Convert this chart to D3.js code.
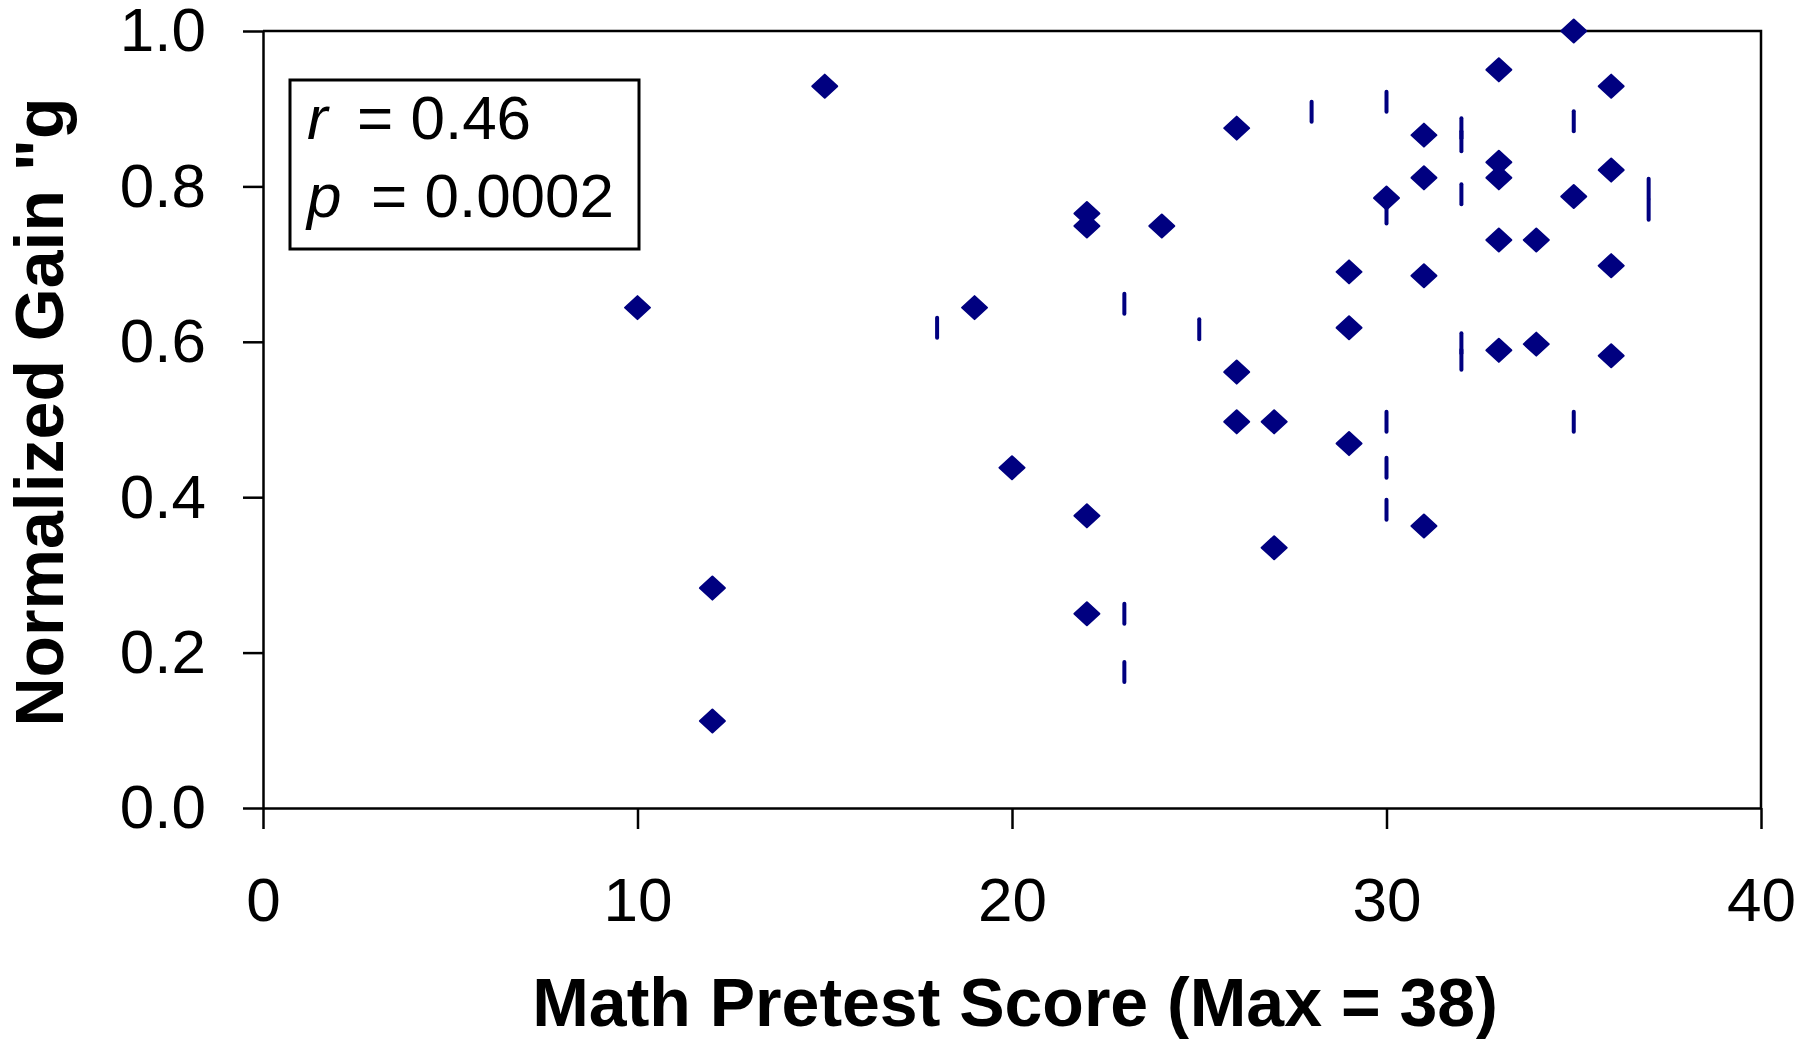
<!DOCTYPE html>
<html>
<head>
<meta charset="utf-8">
<script src="https://cdn.jsdelivr.net/npm/d3@7"></script>
<style>
    body { margin: 0; background: #fff; }
    text { font-family: "Liberation Sans", Arial, sans-serif; }
</style>
</head>
<body>
<div id="display"></div>
<script>
// pretest score vs normalized gain, diamond markers
var diamondX = [10, 12, 12, 15, 19, 20, 22, 22, 22, 22, 24, 26, 26, 26, 27, 27, 29, 29, 29,
                30, 31, 31, 31, 31, 33, 33, 33, 33, 33, 34, 34, 35, 35, 36, 36, 36, 36];
var diamondY = [0.644, 0.283, 0.112, 0.929, 0.644, 0.438, 0.765, 0.749, 0.376, 0.250, 0.749,
                0.875, 0.561, 0.497, 0.497, 0.335, 0.690, 0.618, 0.469, 0.785, 0.866, 0.811,
                0.685, 0.363, 0.950, 0.831, 0.811, 0.731, 0.589, 0.731, 0.597, 1.000, 0.787,
                0.929, 0.821, 0.698, 0.582];

// second series, drawn as short vertical dashes
var dashX = [18, 23, 23, 23, 25, 28, 30, 30, 30, 30, 30, 32, 32, 32, 32, 32, 35, 35, 37, 37];
var dashY = [0.618, 0.649, 0.250, 0.175, 0.616, 0.896, 0.909, 0.765, 0.497, 0.438, 0.384,
             0.875, 0.858, 0.790, 0.598, 0.577, 0.884, 0.497, 0.797, 0.770];

var xTicks = [0, 10, 20, 30, 40];
var yTicks = [0.0, 0.2, 0.4, 0.6, 0.8, 1.0];
var statNames = ['r', 'p'];
var statValues = ['= 0.46', '= 0.0002'];

window.onload = function() {
    var svgWidth = 1818;
    var svgHeight = 1039;
    var markColor = '#000080';

    var svg = d3.select('#display').append('svg')
        .attr('width', svgWidth)
        .attr('height', svgHeight);

    var x = d3.scaleLinear().domain([0, 40]).range([263, 1761]);
    var y = d3.scaleLinear().domain([0, 1]).range([808, 31]);

    // plot frame (top + right)
    svg.append('path')
        .attr('d', 'M' + x(0) + ',' + y(1) + 'H' + x(40) + 'V' + y(0))
        .attr('fill', 'none')
        .attr('stroke', '#000')
        .attr('stroke-width', 2.5);

    var yAxis = svg.append('g')
        .attr('transform', 'translate(' + x(0) + ',0)')
        .call(d3.axisLeft(y).tickValues(yTicks).tickFormat(d3.format('.1f'))
            .tickSize(20).tickSizeOuter(0).tickPadding(37));

    var xAxis = svg.append('g')
        .attr('transform', 'translate(0,' + y(0) + ')')
        .call(d3.axisBottom(x).tickValues(xTicks)
            .tickSize(21).tickSizeOuter(0).tickPadding(48));

    [yAxis, xAxis].forEach(function(ax) {
        ax.selectAll('path, line').attr('stroke', '#000').attr('stroke-width', 2.5);
        ax.selectAll('text')
            .attr('fill', '#000')
            .style('font-family', '"Liberation Sans", Arial, sans-serif')
            .style('font-size', '62px');
    });

    // axis titles
    svg.append('text')
        .attr('x', 1015)
        .attr('y', 1026)
        .attr('text-anchor', 'middle')
        .style('font-size', '68px')
        .style('font-weight', 'bold')
        .text('Math Pretest Score (Max = 38)');

    svg.append('text')
        .attr('transform', 'translate(63,412) rotate(-90)')
        .attr('text-anchor', 'middle')
        .style('font-size', '68px')
        .style('font-weight', 'bold')
        .text('Normalized Gain "g');

    // dashes
    svg.selectAll('line.dash')
        .data(dashX)
        .enter()
        .append('line')
        .attr('class', 'dash')
        .attr('x1', function(d) { return x(d); })
        .attr('x2', function(d) { return x(d); })
        .attr('y1', function(d, i) { return y(dashY[i]) - 10; })
        .attr('y2', function(d, i) { return y(dashY[i]) + 10; })
        .attr('stroke', markColor)
        .attr('stroke-width', 4)
        .attr('stroke-linecap', 'round');

    // diamonds
    svg.selectAll('path.diamond')
        .data(diamondX)
        .enter()
        .append('path')
        .attr('class', 'diamond')
        .attr('transform', function(d, i) {
            return 'translate(' + x(d) + ',' + y(diamondY[i]) + ')';
        })
        .attr('d', 'M0,-11.5L12.5,0L0,11.5L-12.5,0Z')
        .attr('fill', markColor)
        .attr('stroke', markColor)
        .attr('stroke-width', 2)
        .attr('stroke-linejoin', 'round');

    // stats box
    svg.append('rect')
        .attr('x', 290)
        .attr('y', 80)
        .attr('width', 349)
        .attr('height', 169)
        .attr('fill', '#fff')
        .attr('stroke', '#000')
        .attr('stroke-width', 3);

    var statBaseline = [139, 217];
    var valueStart = [357, 371];
    statNames.forEach(function(name, i) {
        svg.append('text')
            .attr('x', 307)
            .attr('y', statBaseline[i])
            .style('font-size', '62px')
            .style('font-style', 'italic')
            .text(name);
        svg.append('text')
            .attr('x', valueStart[i])
            .attr('y', statBaseline[i])
            .style('font-size', '62px')
            .text(statValues[i]);
    });
}
</script>
</body>
</html>
